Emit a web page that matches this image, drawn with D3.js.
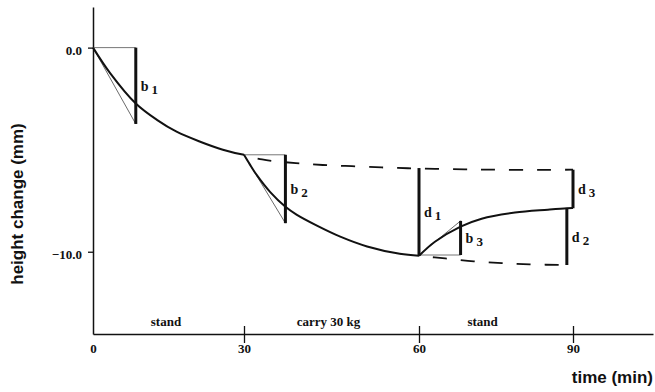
<!DOCTYPE html>
<html>
<head>
<meta charset="utf-8">
<script src="https://cdn.jsdelivr.net/npm/d3@7"></script>
<style>
  body { margin: 0; background: #fff; }
  svg { display: block; }
  .serif { font-family: "Liberation Serif", "Times New Roman", serif; font-weight: bold; fill: #111; }
  .sans { font-family: "Liberation Sans", Arial, sans-serif; font-weight: bold; fill: #111; }
</style>
</head>
<body>
<div id="chart"></div>
<script>
// time (min) vs height change (mm)
var standCurve = [[0, 0], [3.4, -1.25], [8.5, -2.74], [12.7, -3.54], [16.6, -4.12], [21.3, -4.61], [25.8, -5.0], [30, -5.25]];
var carryCurve = [[30, -5.25], [31, -5.72], [32.2, -6.25], [34.5, -7.08], [37.1, -7.8], [39, -8.18], [42.5, -8.72], [46.5, -9.26], [51.1, -9.74], [56.7, -10.1], [60, -10.2]];
var recoverCurve = [[60, -10.2], [63.1, -9.51], [68.1, -8.77], [72.2, -8.38], [78.7, -8.08], [85.1, -7.94], [88.8, -7.87], [90, -7.86]];
var upperDashed = [[30, -5.25], [33.1, -5.48], [38.9, -5.66], [43.5, -5.75], [48.5, -5.81], [53.6, -5.87], [58.1, -5.91], [63.1, -5.94], [68.9, -5.96], [74.2, -5.98], [85.1, -5.99], [90, -5.98]];
var lowerDashed = [[60, -10.2], [65.1, -10.33], [70.7, -10.47], [76.2, -10.56], [81.6, -10.62], [88.8, -10.65]];

// b markers: start point, time of the bar, tangent tip
var bMarks = [
  {name: "b", sub: "1", t0: 0, v0: 0, t: 8.5, tip: -3.74},
  {name: "b", sub: "2", t0: 30, v0: -5.25, t: 37.1, tip: -8.6},
  {name: "b", sub: "3", t0: 60, v0: -10.16, t: 68.1, tip: -8.49}
];
// d bars
var dMarks = [
  {name: "d", sub: "1", t: 60, top: -5.9, bottom: -10.2},
  {name: "d", sub: "2", t: 88.8, top: -7.87, bottom: -10.65},
  {name: "d", sub: "3", t: 90, top: -5.98, bottom: -7.87}
];

var phases = [{label: "stand", t: 14.5}, {label: "carry 30 kg", t: 44.5}, {label: "stand", t: 72.4}];
var xTicks = [0, 30, 60, 90];
var yTicks = [0, -10];

var width = 655, height = 392;

var svg = d3.select("#chart").append("svg")
  .attr("width", width)
  .attr("height", height);

// the drawing is not evenly spaced in time, so the scale is piecewise
var x = d3.scaleLinear()
  .domain([0, 30, 60, 90, 105.6])
  .range([93, 244, 419, 573, 653]);

var y = d3.scaleLinear()
  .domain([-14.03, 1.99])
  .range([334, 7]);

var line = d3.line()
  .x(function(d) { return x(d[0]); })
  .y(function(d) { return y(d[1]); })
  .curve(d3.curveCatmullRom.alpha(0.5));

// axes
var xAxis = svg.append("g")
  .attr("transform", "translate(0," + y(-14.03) + ")")
  .call(d3.axisBottom(x).tickValues(xTicks).tickFormat(d3.format("d")).tickSizeOuter(0));
xAxis.select(".domain").attr("stroke", "#111").attr("stroke-width", 1.5);
xAxis.selectAll(".tick line")
  .attr("stroke", "#111").attr("stroke-width", 1.3)
  .attr("y1", -8).attr("y2", 9)
  .attr("display", function(d) { return d === 0 ? "none" : null; });
xAxis.selectAll(".tick text")
  .attr("class", "serif").attr("y", 10).attr("dy", "0.71em")
  .style("font-size", "13px");

var yAxis = svg.append("g")
  .attr("transform", "translate(" + x(0) + ",0)")
  .call(d3.axisLeft(y).tickValues(yTicks).tickFormat(d3.format(".1f")).tickSize(5).tickPadding(6).tickSizeOuter(0));
yAxis.select(".domain").attr("stroke", "#111").attr("stroke-width", 1.5);
yAxis.selectAll(".tick line").attr("stroke", "#111").attr("stroke-width", 1.3);
yAxis.selectAll(".tick text")
  .attr("class", "serif").attr("dy", "0.55em")
  .style("font-size", "13px");

// axis titles
svg.append("text")
  .attr("class", "sans")
  .attr("transform", "translate(23," + 204 + ") rotate(-90)")
  .attr("text-anchor", "middle")
  .style("font-size", "17px")
  .text("height change (mm)");

svg.append("text")
  .attr("class", "sans")
  .attr("x", 653).attr("y", 383)
  .attr("text-anchor", "end")
  .style("font-size", "17px")
  .text("time (min)");

// phase labels above the time axis
svg.selectAll(".phase")
  .data(phases)
  .enter()
  .append("text")
  .attr("class", "serif phase")
  .attr("x", function(d) { return x(d.t); })
  .attr("y", 326)
  .attr("text-anchor", "middle")
  .style("font-size", "13px")
  .text(function(d) { return d.label; });

// thin construction lines for the b markers
bMarks.forEach(function(b) {
  svg.append("line")
    .attr("x1", x(b.t0)).attr("y1", y(b.v0))
    .attr("x2", x(b.t)).attr("y2", y(b.v0))
    .attr("stroke", "#777").attr("stroke-width", 1);
  svg.append("line")
    .attr("x1", x(b.t0)).attr("y1", y(b.v0))
    .attr("x2", x(b.t)).attr("y2", y(b.tip))
    .attr("stroke", "#444").attr("stroke-width", 0.8);
});

// dashed projections
[upperDashed, lowerDashed].forEach(function(data) {
  svg.append("path")
    .datum(data)
    .attr("d", line)
    .attr("fill", "none")
    .attr("stroke", "#111")
    .attr("stroke-width", 1.8)
    .attr("stroke-dasharray", "14 14")
    .attr("stroke-dashoffset", 14);
});

// measured curves
[standCurve, carryCurve, recoverCurve].forEach(function(data) {
  svg.append("path")
    .datum(data)
    .attr("d", line)
    .attr("fill", "none")
    .attr("stroke", "#111")
    .attr("stroke-width", 2);
});

// thick bars
bMarks.forEach(function(b) {
  svg.append("line")
    .attr("x1", x(b.t)).attr("y1", y(b.v0))
    .attr("x2", x(b.t)).attr("y2", y(b.tip))
    .attr("stroke", "#111").attr("stroke-width", 3);
});
dMarks.forEach(function(d) {
  svg.append("line")
    .attr("x1", x(d.t)).attr("y1", y(d.top))
    .attr("x2", x(d.t)).attr("y2", y(d.bottom))
    .attr("stroke", "#111").attr("stroke-width", 3);
});

// labels next to each bar
function addLabel(name, sub, t, v1, v2) {
  var lab = svg.append("text")
    .attr("class", "serif")
    .attr("x", x(t) + 5)
    .attr("y", (y(v1) + y(v2)) / 2 + 5)
    .style("font-size", "14px");
  lab.append("tspan").text(name);
  lab.append("tspan").attr("dx", 3).attr("dy", 3).style("font-size", "13px").text(sub);
}
bMarks.forEach(function(b) { addLabel(b.name, b.sub, b.t, b.v0, b.tip); });
dMarks.forEach(function(d) { addLabel(d.name, d.sub, d.t, d.top, d.bottom); });
</script>
</body>
</html>
